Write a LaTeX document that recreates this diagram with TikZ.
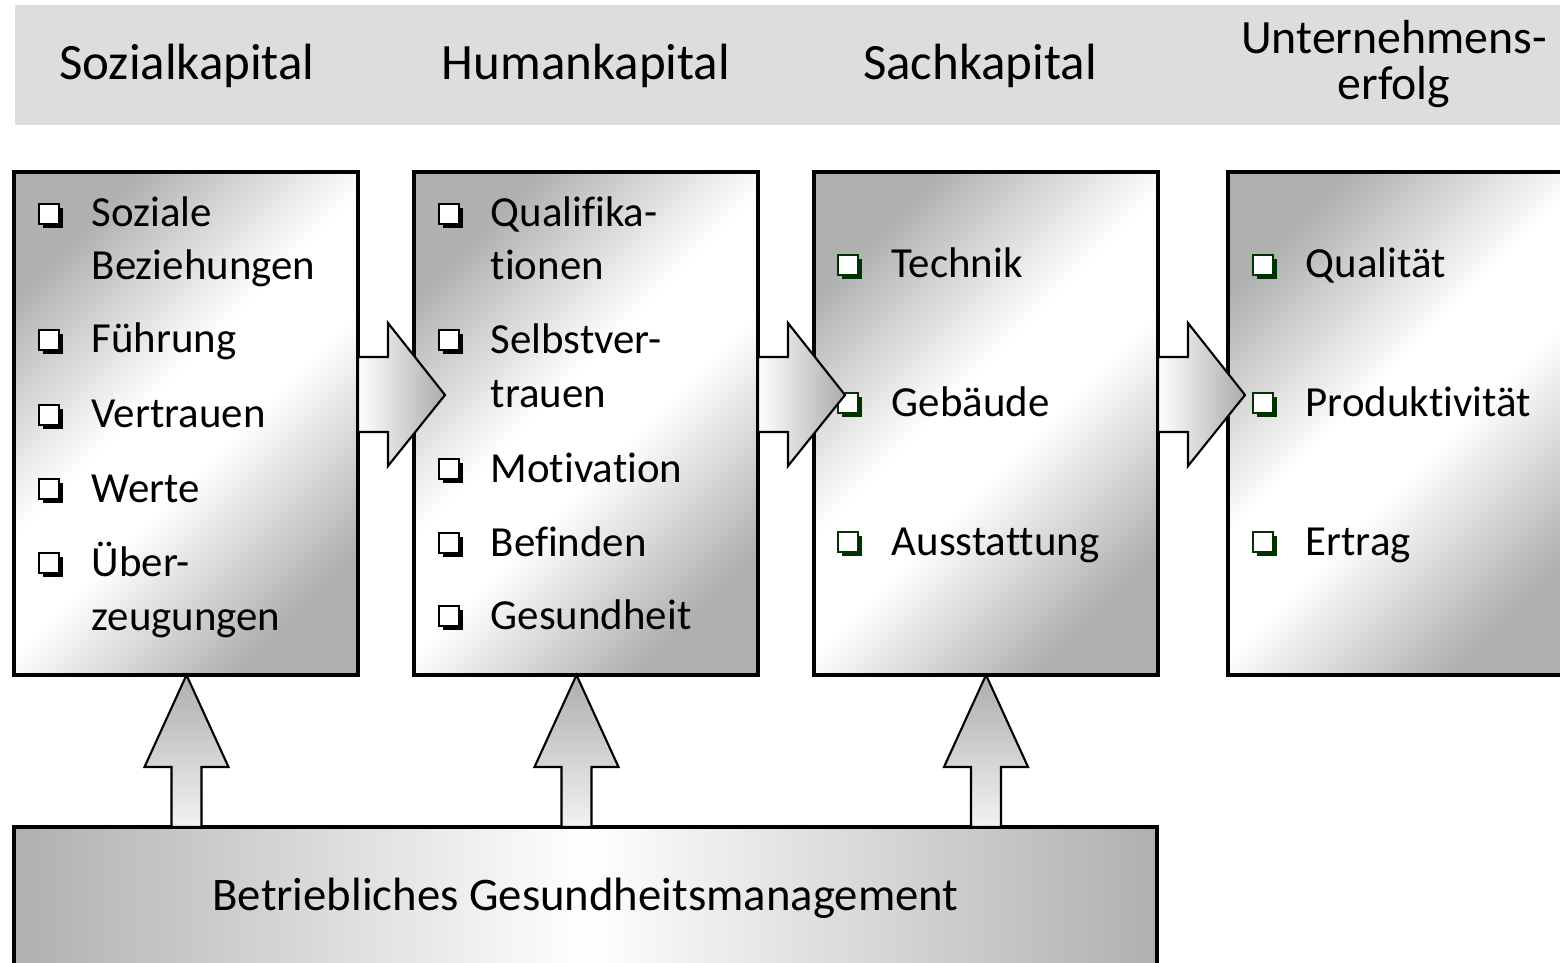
\documentclass[tikz,border=0pt]{standalone}
\usepackage{fontspec}
\setmainfont[Ligatures=NoCommon]{Carlito}
\usetikzlibrary{calc,shadows}

\definecolor{bulgreen}{RGB}{0,51,0}
\definecolor{bannergray}{RGB}{221,221,221}
\pgfdeclarehorizontalshading{panelshade}{100bp}{color(0bp)=(black!31); color(25bp)=(black!31); color(45bp)=(white); color(55bp)=(white); color(75bp)=(black!31); color(100bp)=(black!31)}

\tikzset{
  panel/.style={rectangle, draw=black, line width=1.3pt, outer sep=0pt, minimum width=3.44cm, minimum height=5.03cm, shade, shading=panelshade, shading angle=-45},
  title/.style={anchor=base, align=center, inner sep=0pt, font=\fontsize{14.5}{13.3}\selectfont},
  itm/.style={anchor=base west, align=left, inner sep=0pt, font=\fontsize{12.2}{15.2}\selectfont},
  bul/.style={rectangle, anchor=south west, draw=#1, fill=white, line width=0.7pt, minimum size=0.2cm, inner sep=0pt, general shadow={fill=#1, shadow xshift=1.1pt, shadow yshift=-1.1pt}},
  bul/.default=black,
  harrow/.style={draw=black, line width=0.6pt, left color=white, right color=black!33},
  varrow/.style={draw=black, line width=0.6pt, top color=black!32, bottom color=black!5}
}

\begin{document}
\begin{tikzpicture}
\useasboundingbox (0,0) rectangle (15.6,-9.62);
\clip (0,0) rectangle (15.6,-9.62);

% header bar
\fill[bannergray] (0.15,-0.05) rectangle (15.7,-1.25);
\node[title] (tsozial) at (1.87,-0.80) {Sozialkapital};
\node[title] (thuman) at (5.86,-0.80) {Humankapital};
\node[title] (tsach) at (9.80,-0.80) {Sachkapital};
\node[title, font=\fontsize{13.6}{13.3}\selectfont] (terfolg) at (13.94,-1.00) {Unternehmens-\\erfolg};

% the four boxes
\node[panel] (sozial) at (1.86,-4.235) {};
\node[panel] (human) at (5.86,-4.235) {};
\node[panel] (sach) at (9.86,-4.235) {};
\node[panel] (erfolg) at (14.00,-4.235) {};

\node[rectangle, draw=black, line width=1.3pt, outer sep=0pt, minimum width=11.43cm, minimum height=1.43cm,
      left color=black!31, right color=black!31, middle color=white, font=\fontsize{13.3}{16}\selectfont]
      (bgm) at (5.855,-8.985) {Betriebliches Gesundheitsmanagement};

% items (bullet on first line, text set from its last line)
\foreach \yb/\yy/\txt [count=\i] in {2.27/2.80/{Soziale\\Beziehungen}, 3.53/3.53/Führung, 4.28/4.28/Vertrauen, 5.02/5.02/Werte, 5.76/6.30/{Über-\\zeugungen}} {
  \node[bul] (sb\i) at (0.38,-\yb+0.02) {};
  \node[itm] (st\i) at (0.91,-\yy) {\txt};
}
\foreach \yb/\yy/\txt [count=\i] in {2.27/2.80/{Qualifika-\\tionen}, 3.53/4.07/{Selbstver-\\trauen}, 4.82/4.82/Motivation, 5.56/5.56/Befinden, 6.29/6.29/Gesundheit} {
  \node[bul] (hb\i) at (4.38,-\yb+0.02) {};
  \node[itm] (ht\i) at (4.90,-\yy) {\txt};
}
\foreach \yy/\txt [count=\i] in {2.78/Technik, 4.16/Gebäude, 5.55/Ausstattung} {
  \node[bul=bulgreen] (cb\i) at (8.37,-\yy+0.02) {};
  \node[itm] (ct\i) at (8.91,-\yy) {\txt};
}
\foreach \yy/\txt [count=\i] in {2.78/Qualität, 4.16/Produktivität, 5.55/Ertrag} {
  \node[bul=bulgreen] (eb\i) at (12.52,-\yy+0.02) {};
  \node[itm] (et\i) at (13.05,-\yy) {\txt};
}

% block arrows between the boxes
\foreach \a/\b in {sozial/human, human/sach, sach/erfolg} {
  \draw[harrow] ($(\a.north east)+(0,-1.85)$) -- ++(0.30,0) -- ++(0,0.34)
    -- ($(\a.north east |- \b.north west)+(0.87,-2.23)$) -- ($(\a.north east)+(0.30,-2.94)$)
    -- ++(0,0.34) -- ++(-0.30,0) -- cycle;
}

% arrows up from the bottom box
\foreach \b/\dx in {sozial/0.005, human/-0.095, sach/0} {
  \draw[varrow] ($(\b.south)+(\dx,0)$) -- ++(0.42,-0.92) -- ++(-0.27,0)
    -- ($(bgm.north -| \b.south)+(\dx+0.15,0)$) -- ++(-0.30,0) -- ++(0,0.60)
    -- ++(-0.27,0) -- cycle;
}

\end{tikzpicture}
\end{document}
